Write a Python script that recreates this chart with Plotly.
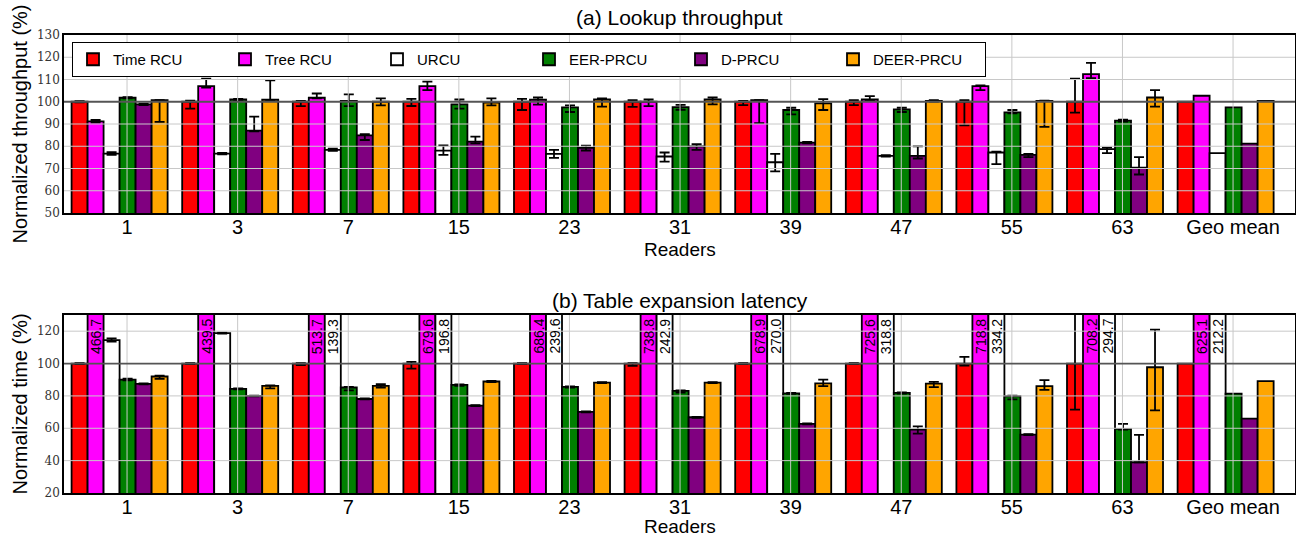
import plotly.graph_objects as go

# ---------------- data ----------------
groups = ["1", "3", "7", "15", "23", "31", "39", "47", "55", "63", "Geo mean"]
series_names = ["Time RCU", "Tree RCU", "URCU", "EER-PRCU", "D-PRCU", "DEER-PRCU"]
series_colors = ["#ff0000", "#ff00ff", "#ffffff", "#008000", "#800080", "#ffa500"]

# (a) Lookup throughput (normalized, %)
tp_time = [100, 100, 100, 100, 100, 100, 100, 100, 100, 100, 100]
tp_tree = [91.2, 107.0, 101.8, 107.0, 100.9, 100.0, 100.7, 101.0, 107.0, 112.4, 102.7]
tp_urcu = [76.7, 76.7, 78.4, 78.0, 76.6, 75.4, 72.8, 75.7, 77.2, 78.7, 76.9]
tp_eer = [101.8, 101.0, 100.4, 98.8, 97.5, 97.6, 96.3, 96.6, 95.2, 91.5, 97.5]
tp_d = [98.8, 87.0, 84.9, 82.1, 79.3, 79.9, 81.6, 75.7, 76.1, 70.4, 81.2]
tp_deer = [100.7, 100.9, 100.0, 99.6, 101.0, 101.0, 99.3, 100.4, 100.4, 101.9, 100.4]

# error bars (plus / minus) for the 10 reader counts (no error on Geo mean)
tp_time_ep = [0.3, 0.5, 0.4, 1.3, 1.3, 0.7, 0.4, 0.7, 0.7, 10.4]
tp_time_em = [0.3, 3.1, 2.0, 1.9, 3.7, 2.3, 1.5, 1.5, 10.6, 4.9]
tp_tree_ep = [0.6, 3.4, 1.9, 2.0, 1.0, 1.0, 0.0, 1.5, 0.3, 5.1]
tp_tree_em = [0.6, 0.6, 0.3, 1.8, 2.2, 2.0, 10.3, 0.3, 1.8, 1.8]
tp_urcu_ep = [0.6, 0.3, 0.5, 2.4, 1.8, 1.8, 3.8, 0.3, 0.4, 0.7]
tp_urcu_em = [0.6, 0.3, 0.5, 1.9, 1.8, 2.3, 4.1, 0.3, 5.2, 1.8]
tp_eer_ep = [0.3, 0.3, 2.9, 2.2, 0.9, 1.0, 1.0, 0.7, 1.1, 0.4]
tp_eer_em = [0.3, 0.3, 2.4, 1.9, 2.1, 1.2, 2.0, 1.2, 0.4, 0.4]
tp_d_ep = [0.3, 6.3, 0.5, 2.2, 1.0, 1.0, 0.3, 4.2, 0.5, 4.7]
tp_d_em = [0.3, 0.3, 2.1, 0.8, 1.2, 1.5, 0.3, 1.2, 1.0, 3.1]
tp_deer_ep = [0.0, 8.7, 1.5, 1.9, 0.5, 0.9, 1.9, 0.3, 0.1, 3.3]
tp_deer_em = [9.7, 0.2, 1.6, 1.2, 3.2, 2.2, 3.0, 0.3, 11.7, 4.1]

# (b) Table expansion latency (normalized, %)
lt_time = [100, 100, 100, 100, 100, 100, 100, 100, 100, 100, 100]
lt_tree = [466.7, 439.5, 513.7, 679.6, 686.4, 738.8, 678.9, 725.6, 718.8, 708.2, 625.1]
lt_urcu = [114.5, 118.8, 139.3, 196.8, 239.6, 242.9, 270.0, 318.8, 334.2, 294.7, 212.2]
lt_eer = [90.1, 84.3, 85.2, 86.8, 85.6, 83.1, 81.6, 81.9, 79.8, 59.6, 81.4]
lt_d = [87.4, 80.0, 78.1, 74.0, 70.1, 66.8, 62.7, 59.2, 56.1, 39.0, 66.0]
lt_deer = [92.0, 86.2, 86.2, 88.9, 88.2, 88.2, 87.8, 87.6, 86.0, 97.7, 89.1]

lt_time_ep = [0.3, 0.3, 0.3, 1.0, 0.3, 0.3, 0.3, 0.3, 4.1, 35.0]
lt_time_em = [0.3, 0.3, 1.0, 3.1, 0.3, 1.5, 0.3, 0.3, 1.2, 28.5]
lt_tree_ep = [0, 0, 0, 0, 0, 0, 0, 0, 0, 0]
lt_tree_em = [0, 0, 0, 0, 0, 0, 0, 0, 0, 0]
lt_urcu_ep = [1.0, 0.3, 0, 0, 0, 0, 0, 0, 0, 0]
lt_urcu_em = [1.0, 0.3, 0, 0, 0, 0, 0, 0, 0, 0]
lt_eer_ep = [0.5, 0.3, 0.3, 0.3, 0.3, 0.3, 0.3, 0.3, 0.3, 3.1]
lt_eer_em = [0.5, 0.3, 1.8, 0.6, 0.5, 1.0, 0.3, 0.5, 2.0, 0.4]
lt_d_ep = [0.3, 0.2, 0.3, 0.3, 0.3, 0.3, 0.3, 2.0, 0.3, 16.9]
lt_d_em = [0.3, 0.2, 0.3, 0.3, 0.3, 0.3, 0.3, 2.5, 0.3, 0.0]
lt_deer_ep = [0.5, 0.3, 1.0, 0.3, 0.3, 0.3, 2.3, 1.1, 3.7, 23.3]
lt_deer_em = [1.5, 1.5, 1.0, 0.3, 0.3, 0.3, 1.8, 2.2, 2.3, 26.6]

top_vals = [tp_time, tp_tree, tp_urcu, tp_eer, tp_d, tp_deer]
top_ep = [tp_time_ep, tp_tree_ep, tp_urcu_ep, tp_eer_ep, tp_d_ep, tp_deer_ep]
top_em = [tp_time_em, tp_tree_em, tp_urcu_em, tp_eer_em, tp_d_em, tp_deer_em]
bot_vals = [lt_time, lt_tree, lt_urcu, lt_eer, lt_d, lt_deer]
bot_ep = [lt_time_ep, lt_tree_ep, lt_urcu_ep, lt_eer_ep, lt_d_ep, lt_deer_ep]
bot_em = [lt_time_em, lt_tree_em, lt_urcu_em, lt_eer_em, lt_d_em, lt_deer_em]

top_yticks = [50, 60, 70, 80, 90, 100, 110, 120, 130]
bot_yticks = [20, 40, 60, 80, 100, 120]

# ---------------- styling ----------------
SANS = "Liberation Sans, Arial, sans-serif"
SERIF = "DejaVu Serif, serif"
BAR_W = 0.1447
OFFSETS = [(k - 3) * BAR_W + 0.005 for k in range(6)]
XRANGE = [-0.57, 10.56]
W, H = 1296, 537
ML, MR = 64, 1
TOP_DOM = [1 - 213 / H, 1 - 35 / H]
BOT_DOM = [1 - 493 / H, 1 - 315 / H]
GRID = "#c8c8c8"

fig = go.Figure()
gx = list(range(len(groups)))

for panel, (vals, eps, ems, xa, ya) in enumerate([
        (top_vals, top_ep, top_em, "x", "y"),
        (bot_vals, bot_ep, bot_em, "x2", "y2")]):
    for k in range(6):
        xs = [g + OFFSETS[k] for g in gx]
        fig.add_trace(go.Bar(
            x=xs, y=vals[k], width=BAR_W, name=series_names[k],
            marker=dict(color=series_colors[k], line=dict(color="black", width=1.8)),
            xaxis=xa, yaxis=ya, showlegend=(panel == 0), legendgroup=series_names[k],
            hoverinfo="skip"))
    for k in range(6):
        xs = [g + OFFSETS[k] for g in gx[:10]]
        fig.add_trace(go.Scatter(
            x=xs, y=vals[k][:10], mode="markers",
            marker=dict(opacity=0, size=1, color="black"),
            error_y=dict(type="data", symmetric=False, array=eps[k], arrayminus=ems[k],
                         color="black", thickness=1.8, width=5),
            xaxis=xa, yaxis=ya, showlegend=False, hoverinfo="skip"))

# rotated value labels for bars exceeding the visible range in (b)
annotations = []
for k in (1, 2):
    for g in gx:
        v = bot_vals[k][g]
        if v > 130:
            annotations.append(dict(
                x=g + OFFSETS[k], y=130, xref="x2", yref="y2", text=f"{v:.1f}",
                textangle=-90, showarrow=False, xanchor="center", yanchor="top",
                yshift=-2, font=dict(family=SANS, size=14, color="black")))

# titles and axis labels
annotations += [
    dict(text="(a) Lookup throughput", x=0.5, y=1 - 17 / H, xref="paper", yref="paper",
         showarrow=False, xanchor="center", yanchor="middle", font=dict(family=SANS, size=21, color="black")),
    dict(text="(b) Table expansion latency", x=0.5, y=1 - 300 / H, xref="paper", yref="paper",
         showarrow=False, xanchor="center", yanchor="middle", font=dict(family=SANS, size=21, color="black")),
    dict(text="Readers", x=0.5, y=1 - 249 / H, xref="paper", yref="paper",
         showarrow=False, xanchor="center", yanchor="middle", font=dict(family=SANS, size=19, color="black")),
    dict(text="Readers", x=0.5, y=1 - 526 / H, xref="paper", yref="paper",
         showarrow=False, xanchor="center", yanchor="middle", font=dict(family=SANS, size=19, color="black")),
    dict(text="Normalized throughput (%)", x=(19.5 - ML) / (W - ML - MR), y=sum(TOP_DOM) / 2,
         xref="paper", yref="paper", textangle=-90, showarrow=False, xanchor="center", yanchor="middle",
         font=dict(family=SANS, size=20, color="black")),
    dict(text="Normalized time (%)", x=(19.5 - ML) / (W - ML - MR), y=sum(BOT_DOM) / 2,
         xref="paper", yref="paper", textangle=-90, showarrow=False, xanchor="center", yanchor="middle",
         font=dict(family=SANS, size=20, color="black")),
]

# grid lines drawn above the bars (as in the reference)
shapes = []
for xa, ya, ticks in (("x", "y", top_yticks), ("x2", "y2", bot_yticks)):
    for g in gx:
        shapes.append(dict(type="line", xref=xa, yref=f"{ya} domain", x0=g, x1=g, y0=0, y1=1,
                           line=dict(color=GRID, width=1), layer="above"))
    for t in ticks[1:-1] if ticks[-1] == 130 else ticks[1:]:
        if t == 100:
            continue
        shapes.append(dict(type="line", xref=f"{xa} domain", yref=ya, x0=0, x1=1, y0=t, y1=t,
                           line=dict(color=GRID, width=1), layer="above"))
    shapes.append(dict(type="line", xref=f"{xa} domain", yref=ya, x0=0, x1=1, y0=100, y1=100,
                       line=dict(color="#555555", width=1.8), layer="above"))

axis_common = dict(showline=True, linecolor="black", linewidth=1.5, mirror=True,
                   showgrid=False, zeroline=False, ticks="", automargin=False)

fig.update_layout(
    template="none",
    width=W, height=H,
    margin=dict(l=ML, r=MR, t=0, b=0),
    paper_bgcolor="white", plot_bgcolor="white",
    font=dict(family=SANS, color="black"),
    barmode="overlay",
    showlegend=True,
    legend=dict(orientation="h", x=8 / (W - ML - MR), y=1 - 42 / H, xanchor="left", yanchor="top",
                bgcolor="white", bordercolor="black", borderwidth=1,
                font=dict(family=SANS, size=15, color="black"),
                entrywidth=107, entrywidthmode="pixels", traceorder="normal",
                tracegroupgap=0, itemwidth=30),
    xaxis=dict(domain=[0, 1], anchor="y", range=XRANGE, tickmode="array", tickvals=gx, ticktext=groups,
               tickfont=dict(family=SANS, size=20, color="black"), ticklabelstandoff=-5, **axis_common),
    yaxis=dict(domain=TOP_DOM, anchor="x", range=[50, 130], tickmode="array", tickvals=top_yticks,
               tickfont=dict(family=SERIF, size=12, color="#333333"), **axis_common),
    xaxis2=dict(domain=[0, 1], anchor="y2", range=XRANGE, tickmode="array", tickvals=gx, ticktext=groups,
                tickfont=dict(family=SANS, size=20, color="black"), ticklabelstandoff=-5, **axis_common),
    yaxis2=dict(domain=BOT_DOM, anchor="x2", range=[20, 130], tickmode="array", tickvals=bot_yticks,
                tickfont=dict(family=SERIF, size=12, color="#333333"), **axis_common),
    annotations=annotations,
    shapes=shapes,
)

fig.write_html("out.html", config={"displayModeBar": False},
               post_script="document.body.style.margin='0';document.body.style.padding='0';")
